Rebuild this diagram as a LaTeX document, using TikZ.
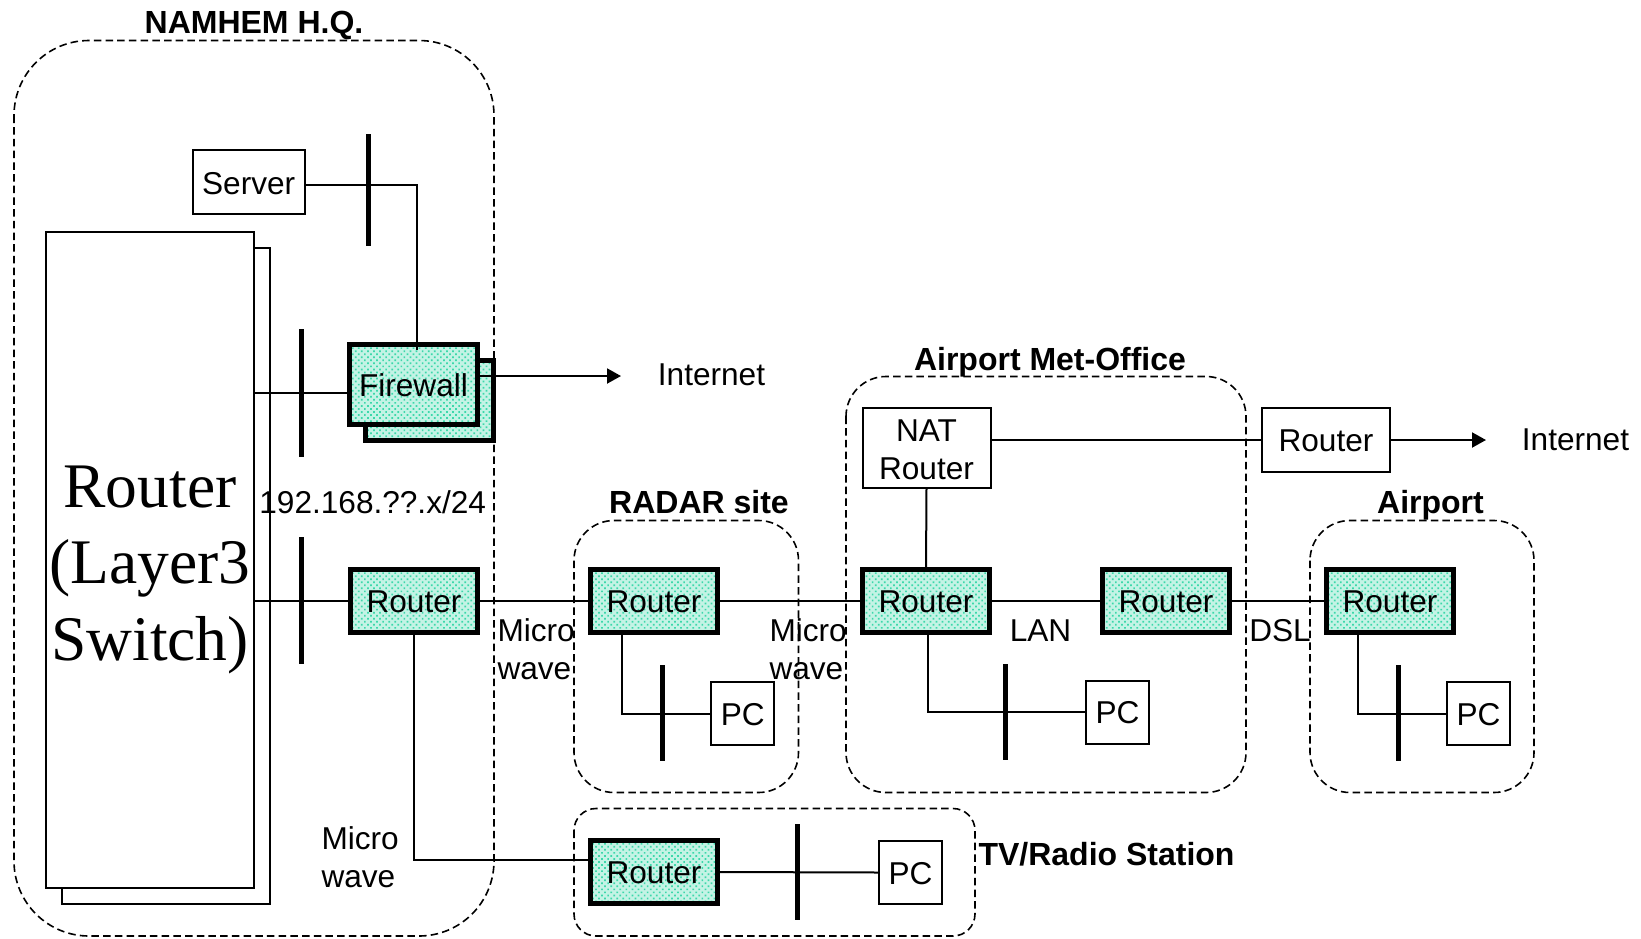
\documentclass[tikz,border=0pt]{standalone}
\usepackage{fontspec}
\setmainfont{Liberation Sans}
\newfontfamily\bigserif{Liberation Serif}
\usetikzlibrary{arrows.meta,patterns.meta,calc,positioning}
\definecolor{tealbase}{HTML}{C4F3E5}
\definecolor{tealdot}{HTML}{3CD8AA}
\tikzset{
  txt/.style={font=\fontsize{31.6}{38}\selectfont, inner sep=0pt, outer sep=0pt},
  lbl/.style={txt, anchor=base},
  ttl/.style={font=\fontsize{32}{38.5}\selectfont\bfseries, inner sep=0pt, outer sep=0pt, anchor=base},
  box/.style={txt, draw=black, line width=2pt, fill=white, align=center},
  oneline/.style={text height=23.5pt, text depth=0pt},
  bigbox/.style={draw=black, line width=2pt, fill=white, inner sep=0pt, outer sep=0pt},
  zone/.style={draw=black, line width=1.6pt, dash pattern=on 7.5pt off 4.2pt},
  teal/.style={draw=black, line width=5.4pt, preaction={fill=tealbase},
    preaction={pattern={Dots[distance=4.3pt,radius=1.2pt,angle=45]},pattern color=tealdot}},
  hot/.style={txt, teal, oneline, minimum width=127pt, minimum height=63pt},
  behind/.style={teal, inner sep=0pt, outer sep=0pt, minimum width=128pt, minimum height=80pt},
  busbar/.style={fill=black, draw=none, minimum width=5pt, inner sep=0pt, outer sep=0pt},
  link/.style={line width=2pt},
  uplink/.style={link, -{Triangle[length=14pt,width=15pt]}},
  pcbox/.style={box, oneline, minimum width=63pt, minimum height=63pt}
}
\begin{document}
\begin{tikzpicture}[x=1pt,y=-1pt]
\useasboundingbox (0,0) rectangle (1641,938);
% zones
\draw[zone,rounded corners=75pt] (14,40.5) rectangle (494,936);
\draw[zone,rounded corners=40pt] (574,520.5) rectangle (798.5,792.5);
\draw[zone,rounded corners=40pt] (846,376.5) rectangle (1246,792.5);
\draw[zone,rounded corners=40pt] (1310,520.5) rectangle (1534,792.5);
\draw[zone,rounded corners=22pt] (574,808.5) rectangle (975,936);
% titles
\node[ttl] (t1) at (254,33) {NAMHEM H.Q.};
\node[ttl] (t2) at (1050,370) {Airport Met-Office};
\node[ttl] (t3) at (699,513) {RADAR site};
\node[ttl] (t4) at (1430.5,513) {Airport};
\node[ttl] (t5) at (1106.5,865) {TV/Radio Station};
% big router
\node[bigbox, minimum width=208pt, minimum height=656pt] (bigb) at (166,576) {};
\node[bigbox, minimum width=208pt, minimum height=656pt] (big) at (150,560) {};
\node[inner sep=0pt, align=center, font=\bigserif\fontsize{63.5}{76.5}\selectfont] (bigt) at (150,569.5) {Router\\(Layer3\\Switch)};
% server and firewall
\node[box, oneline, text height=25pt, minimum width=112pt, minimum height=64pt] (srv) at (248.7,182) {Server};
\node[behind] (fwb) at (429.5,400.5) {};
\node[hot, minimum height=80pt, minimum width=128pt] (fw) at (413.5,384.5) {Firewall};
% buses
\node[busbar, minimum height=112pt] (b1) at (368,190) {};
\node[busbar, minimum height=128pt] (b2) at (301.7,392.5) {};
\node[busbar, minimum height=127pt] (b3) at (301.7,600.5) {};
\node[busbar, minimum height=96pt] (b4) at (662.7,713.3) {};
\node[busbar, minimum height=96pt] (b5) at (1005.7,712.3) {};
\node[busbar, minimum height=96pt] (b6) at (1398,713.3) {};
\node[busbar, minimum height=96pt] (b7) at (797.5,872) {};
% routers
\node[hot] (r0) at (414,601) {Router};
\node[hot] (r1) at (654,601) {Router};
\node[hot] (r2) at (926,601) {Router};
\node[hot] (r3) at (1166,601) {Router};
\node[hot] (r4) at (1390,601) {Router};
\node[hot] (r5) at (654,872) {Router};
\node[box, minimum width=128pt, minimum height=80pt] (nat) at (926.5,448) {\rule{0pt}{25.5pt}NAT\\Router};
\node[box, oneline, minimum width=128pt, minimum height=64pt] (gw) at (1326,440) {Router};
% PCs
\node[pcbox] (p1) at (742.7,713.5) {PC};
\node[pcbox] (p2) at (1117.5,712.2) {PC};
\node[pcbox] (p3) at (1478.5,713.5) {PC};
\node[pcbox] (p4) at (910.5,872.5) {PC};
% free ends
\coordinate (inet1) at (621,376);
\coordinate (inet2) at (1486,440);
\coordinate (fwin) at (416.5,350);
% connectors
\draw[link] (srv.east |- 0,185) -| (fwin);
\draw[link] (big.east |- 0,392.5) -- (fw.west |- 0,392.5);
\draw[link] (big.east |- r0.west) -- (r0.west);
\draw[uplink] (fw.east |- inet1) -- (inet1);
\draw[link] (r0.east) -- (r1.west);
\draw[link] (r1.east) -- (r2.west);
\draw[link] (r2.east) -- (r3.west);
\draw[link] (r3.east) -- (r4.west);
\draw[link] (nat.south) -- (r2.north);
\draw[link] (nat.east |- gw.west) -- (gw.west);
\draw[uplink] (gw.east) -- (inet2);
\draw[link] (r0.south) |- (r5.west |- 0,860);
\draw[link] (r5.east) -- (p4.west);
\draw[link] (622,635) |- (p1.west);
\draw[link] (927.7,635) |- (p2.west);
\draw[link] (1357.6,635) |- (p3.west);
% labels
\node[lbl] (n1) at (711.5,385) {Internet};
\node[lbl] (n2) at (1575.5,450) {Internet};
\node[lbl] (n3) at (372.7,513) {192.168.??.x/24};
\node[lbl] (n4) at (1040.5,641) {LAN};
\node[lbl] (n5) at (1280,641) {DSL};
\node[txt, align=left, anchor=west] (m1) at (497.5,649.5) {Micro\\wave};
\node[txt, align=left, anchor=west] (m2) at (769.5,649.5) {Micro\\wave};
\node[txt, align=left, anchor=west] (m3) at (321.5,857.5) {Micro\\wave};
\end{tikzpicture}
\end{document}
